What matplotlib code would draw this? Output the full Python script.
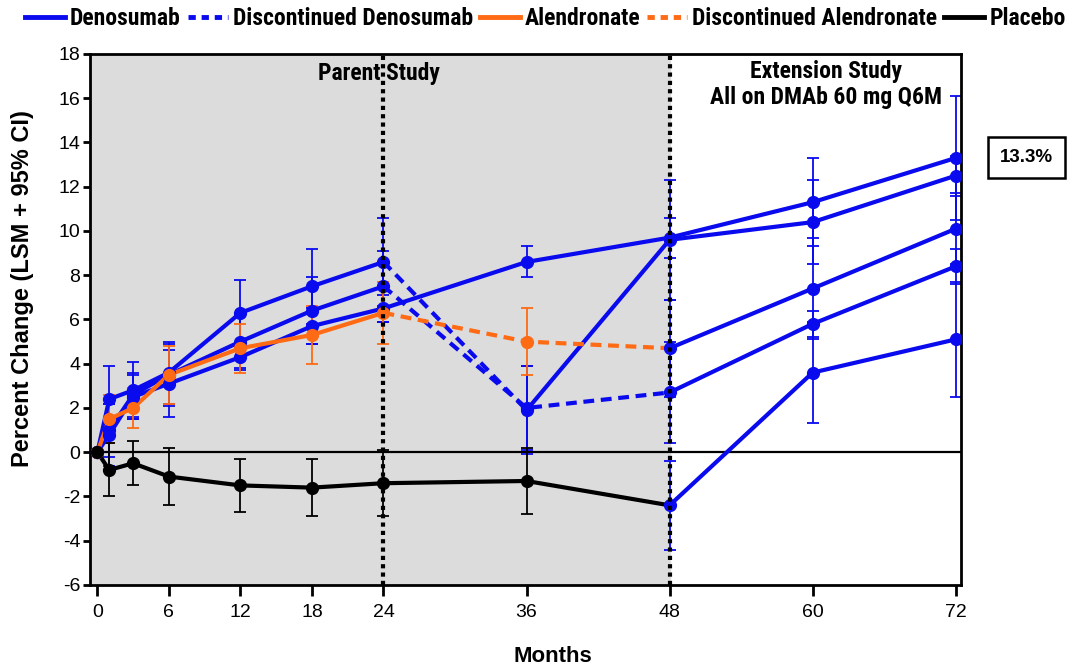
import matplotlib
matplotlib.use("Agg")
import matplotlib.pyplot as plt
from matplotlib.lines import Line2D

plt.rcParams['font.family'] = ['Liberation Sans', 'DejaVu Sans']
plt.rcParams['axes.unicode_minus'] = False

NARROW = ['Roboto Condensed', 'Asap Condensed', 'Liberation Sans']

# visit months
months = [0, 1, 3, 6, 12, 18, 24, 36, 48, 60, 72]

# LSM percent change by group
dmab_cont = [0, 0.8, 2.5, 3.1, 4.3, 5.7, 6.5, 8.6, 9.7, 11.3, 13.3]
dmab_cont_err = [0, 1.4, 1.0, 1.5, 0.6, 0.8, 0.6, 0.7, 0.9, 2.0, 2.8]

dmab_retreat = [0, 2.4, 2.8, 3.6, 6.3, 7.5, 8.6, 1.9, 9.6, 10.4, 12.5]
dmab_retreat_err = [0, 1.5, 1.3, 1.4, 1.5, 1.7, 2.0, 2.0, 2.7, 1.9, 0.9]

dmab_off = [0, 1.0, 2.6, 3.5, 5.0, 6.4, 7.5, 2.0, 2.7, 5.8, 8.4]
dmab_off_err = [0, 1.2, 1.0, 1.4, 1.2, 1.5, 1.6, 1.9, 2.3, 0.6, 0.8]

aln = [0, 1.5, 2.0, 3.5, 4.7, 5.3, 6.3, 5.0, 4.7, 7.4, 10.1]
aln_err = [0, 1.1, 0.9, 1.3, 1.1, 1.3, 1.4, 1.5, 2.2, 2.3, 1.6]

pbo = [0, -0.8, -0.5, -1.1, -1.5, -1.6, -1.4, -1.3, -2.4, 3.6, 5.1]
pbo_err = [0, 1.2, 1.0, 1.3, 1.2, 1.3, 1.5, 1.5, 2.0, 2.3, 2.6]

legend_labels = ['Denosumab', 'Discontinued Denosumab', 'Alendronate',
                 'Discontinued Alendronate', 'Placebo']

BLUE = '#0a0aef'
ORANGE = '#ff6a14'
BLACK = '#000000'
DASH = (2.6, 1.6)

fig = plt.figure(figsize=(10.84, 6.69), dpi=100)
ax = fig.add_axes([0.083, 0.1256, 0.8035, 0.7937])

ax.set_xlim(-0.62, 72.44)
ax.set_ylim(-6, 18)
ax.axvspan(-0.62, 48, color='#dcdcdc', zorder=0)
ax.axhline(0, color='black', lw=1.6, zorder=1)


def draw_group(vals, errs, segments, point_colors):
    # segments: (start index, end index, colour, dashed?)
    for i0, i1, col, dashed in segments:
        line, = ax.plot(months[i0:i1 + 1], vals[i0:i1 + 1], color=col, lw=3.0,
                        solid_capstyle='round', zorder=3)
        if dashed:
            line.set_dashes(DASH)
    for i, m in enumerate(months):
        col = point_colors[i]
        if errs[i] > 0:
            ax.errorbar(m, vals[i], yerr=errs[i], color=col, lw=1.3, capsize=4,
                        capthick=1.3, fmt='none', zorder=2)
        ax.plot(m, vals[i], 'o', color=col, ms=8.5, zorder=4)


draw_group(dmab_cont, dmab_cont_err, [(0, 10, BLUE, False)], [BLUE] * 11)
draw_group(dmab_retreat, dmab_retreat_err,
           [(0, 6, BLUE, False), (6, 7, BLUE, True), (7, 10, BLUE, False)], [BLUE] * 11)
draw_group(dmab_off, dmab_off_err,
           [(0, 6, BLUE, False), (6, 8, BLUE, True), (8, 10, BLUE, False)], [BLUE] * 11)
draw_group(aln, aln_err,
           [(0, 6, ORANGE, False), (6, 8, ORANGE, True), (8, 10, BLUE, False)],
           [ORANGE] * 8 + [BLUE] * 3)
draw_group(pbo, pbo_err,
           [(0, 8, BLACK, False), (8, 10, BLUE, False)],
           [BLACK] * 8 + [BLUE] * 3)

# study phase separators
for xv in (24, 48):
    ax.axvline(xv, color='black', lw=3, ls=(0, (1, 1)), zorder=5)

note = dict(ha='center', va='center', family=NARROW, fontsize=17, fontweight='bold', zorder=6)
ax.text(23.6, 17.1, 'Parent Study', **note)
ax.text(61.1, 17.2, 'Extension Study', **note)
ax.text(61.1, 16.05, 'All on DMAb 60 mg Q6M', **note)

ax.set_xticks([0, 6, 12, 18, 24, 36, 48, 60, 72])
ax.set_yticks(range(-6, 19, 2))
ax.tick_params(direction='out', width=2, labelsize=14)
ax.tick_params(axis='x', length=8, pad=6)
ax.tick_params(axis='y', length=5, pad=2)
for sp in ax.spines.values():
    sp.set_linewidth(2)

fig.text(553 / 1084, 1 - 656 / 669, 'Months', ha='center', va='center',
         fontsize=16, fontweight='bold')
fig.text(23 / 1084, 1 - 289 / 669, 'Percent Change (LSM + 95% CI)', rotation=90,
         ha='center', va='center', fontsize=17, fontweight='bold')

fig.text(0.947, 0.765, '13.3%', ha='center', va='center', fontsize=13.5, fontweight='bold',
         bbox=dict(boxstyle='square,pad=0.65', fc='white', ec='black', lw=1.8))

handles = [Line2D([], [], color=BLUE, lw=3.5),
           Line2D([], [], color=BLUE, lw=3.5, dashes=(1.5, 1.2)),
           Line2D([], [], color=ORANGE, lw=3.5),
           Line2D([], [], color=ORANGE, lw=3.5, dashes=(1.5, 1.2)),
           Line2D([], [], color=BLACK, lw=3.5)]
fig.legend(handles, legend_labels, loc='center', bbox_to_anchor=(0.503, 0.972), ncol=5,
           frameon=False, handlelength=1.7, handletextpad=0.2, columnspacing=0.3,
           borderpad=0.1, borderaxespad=0,
           prop={'family': NARROW, 'weight': 'bold', 'size': 17})

fig.savefig('out.png', dpi=100)
